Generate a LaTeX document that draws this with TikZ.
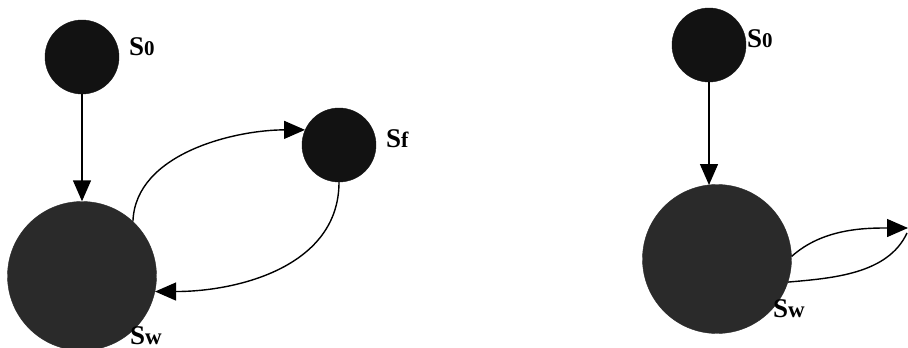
\documentclass[tikz,border=0pt]{standalone}
\usepackage{fontspec}
\setmainfont{Liberation Serif}
\usetikzlibrary{arrows.meta}
\definecolor{smallfill}{HTML}{121212}
\definecolor{bigfill}{HTML}{2A2A2A}
\tikzset{
  smallstate/.style={circle,fill=smallfill,draw=smallfill,minimum size=74pt,inner sep=0pt},
  bigstate/.style={circle,fill=bigfill,draw=bigfill,minimum size=149pt,inner sep=0pt},
  lbl/.style={anchor=base west,inner sep=0pt,font=\bfseries},
  conn/.style={line width=1.4pt,-{Triangle[length=21pt,width=18pt]}},
  plain/.style={line width=1.4pt}
}
\newcommand{\lab}[2]{{\fontsize{27}{27}\selectfont S}{\fontsize{#2}{#2}\selectfont #1}}
\begin{document}
\begin{tikzpicture}[x=1pt,y=-1pt]
\useasboundingbox (0,0) rectangle (908,348);
% left diagram
\node[smallstate] (s0L) at (82,57) {};
\node[bigstate] (swL) at (82,276) {};
\node[smallstate] (sfL) at (339,145) {};
\node[lbl] (t0L) at (129,55) {\lab{0}{21}};
\node[lbl] (tfL) at (386,147) {\lab{f}{22}};
\node[lbl] (twL) at (130,344) {\lab{w}{23}};
\draw[conn] (s0L.south) -- (swL.north);
\draw[conn] (swL.47) to[out=88,in=180,looseness=0.9] (sfL.156);
\draw[conn] (sfL.south) to[out=-90,in=0,looseness=1.0] (swL.-12);
% right diagram
\node[smallstate] (s0R) at (709,45) {};
\node[bigstate] (swR) at (717,259) {};
\node[lbl] (t0R) at (747,47) {\lab{0}{21}};
\node[lbl] (twR) at (773,317) {\lab{w}{23}};
\coordinate (topR) at (908,228);
\coordinate (botR) at (907,233);
\draw[conn] (s0R.south) -- (s0R.south |- 709,185);
\draw[conn] (swR.2) to[out=42,in=180,looseness=0.9] (topR);
\draw[plain] (botR) to[out=-115,in=5,looseness=0.9] (swR.-18);
\end{tikzpicture}
\end{document}
